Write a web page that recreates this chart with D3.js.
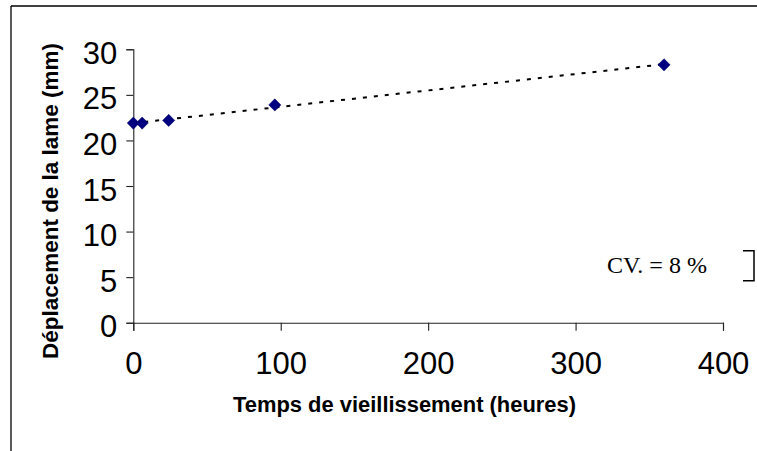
<!DOCTYPE html>
<html>
<head>
<meta charset="utf-8">
<script src="https://cdn.jsdelivr.net/npm/d3@7"></script>
<style>
  html, body { margin: 0; padding: 0; background: #fff; }
  svg { display: block; }
</style>
</head>
<body>
<svg id="chart" width="757" height="451"></svg>
<script>
// ---- data ----
const hours = [0, 6, 24, 96, 360];
const displacement = [21.9, 21.9, 22.2, 23.9, 28.3];
const xTicks = [0, 100, 200, 300, 400];
const yTicks = [0, 5, 10, 15, 20, 25, 30];
const xTitle = "Temps de vieillissement (heures)";
const yTitle = "Déplacement de la lame (mm)";
const cvLabel = "CV. = 8 %";
const cvBracket = [4.6, 7.9]; // bracket extent in y units

// ---- layout ----
const svg = d3.select("#chart");
const x = d3.scaleLinear().domain([0, 400]).range([133.3, 723]);
const y = d3.scaleLinear().domain([0, 30]).range([322.7, 49.3]);

// frame (only top and left visible)
svg.append("line").attr("x1", 11).attr("x2", 11).attr("y1", 6).attr("y2", 451)
  .attr("stroke", "#000").attr("stroke-width", 1.3);
svg.append("line").attr("x1", 11).attr("x2", 757).attr("y1", 6).attr("y2", 6)
  .attr("stroke", "#000").attr("stroke-width", 1.6);

// axes
const xAxis = svg.append("g").attr("transform", `translate(0,${y(0)})`)
  .call(d3.axisBottom(x).tickValues(xTicks).tickSize(8).tickFormat(d3.format("d")));
const yAxis = svg.append("g").attr("transform", `translate(${x(0)},0)`)
  .call(d3.axisLeft(y).tickValues(yTicks).tickSize(7).tickFormat(d3.format("d")));

[xAxis, yAxis].forEach(g => {
  g.select(".domain").attr("stroke", "#222").attr("stroke-width", 1.1);
  g.selectAll(".tick line").attr("stroke", "#222").attr("stroke-width", 1.1);
  g.selectAll(".tick text")
    .attr("font-family", "Liberation Sans, Arial, sans-serif")
    .attr("font-size", 31).attr("fill", "#000");
});
xAxis.selectAll(".tick text").attr("dy", 0).attr("y", 51.6);
yAxis.selectAll(".tick text").attr("dy", 0).attr("y", 14).attr("x", -16);

// trend line (least squares)
const mx = d3.mean(hours), my = d3.mean(displacement);
const slope = d3.sum(hours, (h, i) => (h - mx) * (displacement[i] - my)) / d3.sum(hours, h => (h - mx) ** 2);
const intercept = my - slope * mx;
const xr = d3.extent(hours);
svg.append("path")
  .attr("d", d3.line()(xr.map(h => [x(h), y(intercept + slope * h)])))
  .attr("stroke", "#000").attr("stroke-width", 2).attr("stroke-dasharray", "4,7")
  .attr("fill", "none");

// markers
svg.selectAll(".pt").data(hours).join("path")
  .attr("class", "pt")
  .attr("d", d3.symbol(d3.symbolSquare, 74)())
  .attr("transform", (h, i) => `translate(${x(h)},${y(displacement[i])}) rotate(45)`)
  .attr("fill", "#000080").attr("stroke", "#000060").attr("stroke-width", 0.5);

// titles
svg.append("text").text(xTitle)
  .attr("x", 404.5).attr("y", 412).attr("text-anchor", "middle")
  .attr("font-family", "Liberation Sans, Arial, sans-serif").attr("font-weight", "bold")
  .attr("font-size", 22).attr("textLength", 343).attr("lengthAdjust", "spacingAndGlyphs");
svg.append("text").text(yTitle)
  .attr("transform", "translate(58,201) rotate(-90)").attr("text-anchor", "middle")
  .attr("font-family", "Liberation Sans, Arial, sans-serif").attr("font-weight", "bold")
  .attr("font-size", 22).attr("textLength", 316).attr("lengthAdjust", "spacingAndGlyphs");

// CV annotation
svg.append("text").text(cvLabel)
  .attr("x", 607).attr("y", 273)
  .attr("font-family", "Liberation Serif, Times New Roman, serif")
  .attr("font-size", 23).attr("textLength", 100).attr("lengthAdjust", "spacingAndGlyphs");
const bx = 754;
svg.append("path")
  .attr("d", `M${bx - 11},${y(cvBracket[1])}H${bx}V${y(cvBracket[0])}H${bx - 11}`)
  .attr("stroke", "#000").attr("stroke-width", 1.5).attr("fill", "none");
</script>
</body>
</html>
